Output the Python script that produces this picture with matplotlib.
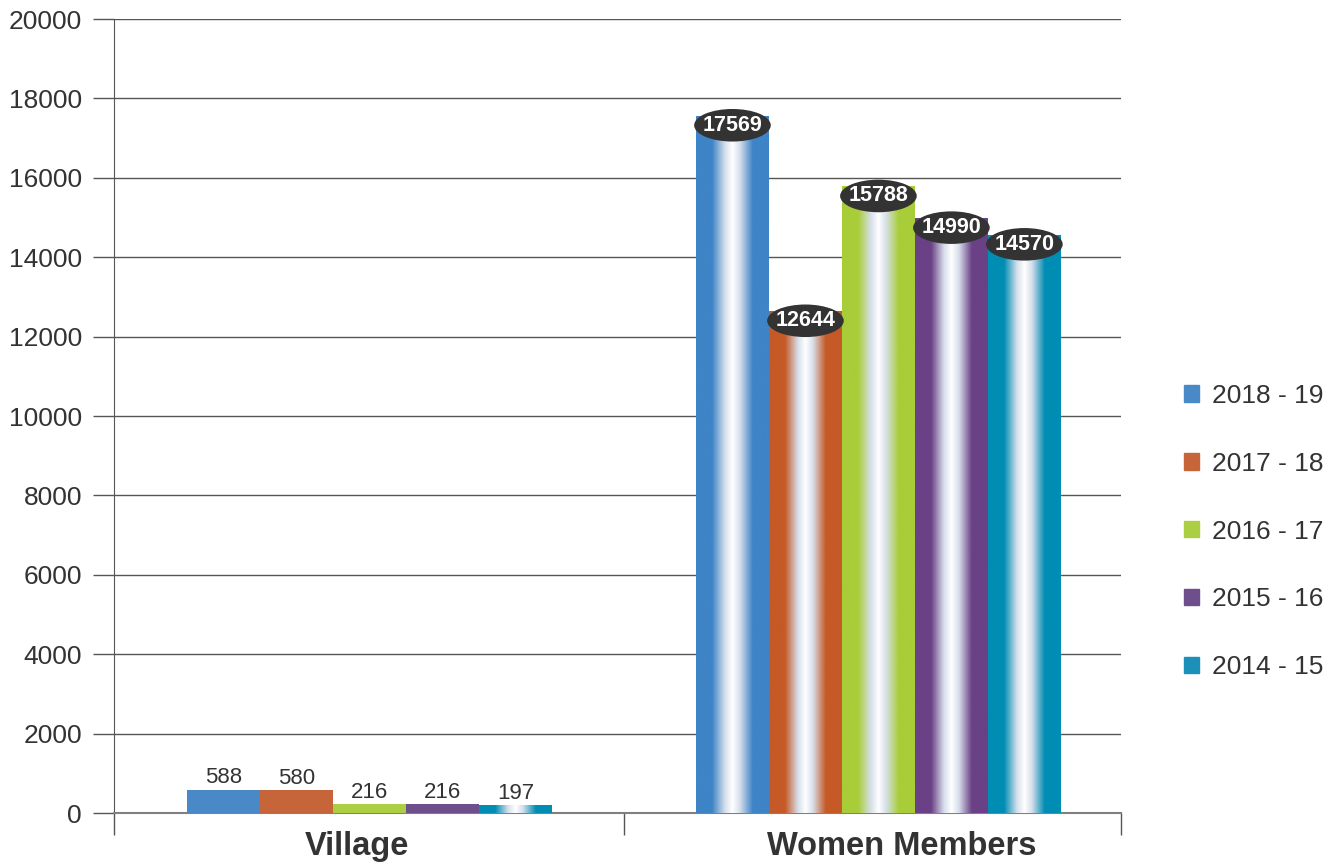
import matplotlib.pyplot as plt
import matplotlib.transforms as mtransforms
import numpy as np
from matplotlib.colors import LinearSegmentedColormap
from matplotlib.patches import Ellipse, Patch

plt.rcParams['font.family'] = ['Liberation Sans', 'DejaVu Sans']

categories = ['Village', 'Women Members']
seasons = ['2018 - 19', '2017 - 18', '2016 - 17', '2015 - 16', '2014 - 15']
village = [588, 580, 216, 216, 197]
women = [17569, 12644, 15788, 14990, 14570]

flat_colors = ['#4A89C8', '#C6643A', '#AACF45', '#6E4E8B', '#1C90B8']
tube_colors = ['#3E84C6', '#C55A27', '#A8CD38', '#6A4186', '#008DB4']
village_shaded = [False, False, False, False, True]

text_col = '#333333'
line_col = '#555555'

fig = plt.figure(figsize=(13.39, 8.65), dpi=100)
ax = fig.add_axes([0.0851, 0.0601, 0.7521, 0.9179])

width = 0.1432
centers = [0.502, 1.5]


def shade(patch, color):
    # cylinder look: white highlight running down the middle of the bar
    cmap = LinearSegmentedColormap.from_list(
        'tube', [(0, color), (0.22, color), (0.4, '#d8e0ec'), (0.5, 'white'),
                 (0.6, '#d8e0ec'), (0.78, color), (1, color)])
    x0, y0 = patch.get_x(), patch.get_y()
    w, h = patch.get_width(), patch.get_height()
    im = ax.imshow(np.linspace(0, 1, 256)[None, :], extent=(x0, x0 + w, y0, y0 + h),
                   aspect='auto', cmap=cmap, interpolation='bilinear',
                   zorder=patch.get_zorder() + 0.1)
    im.set_clip_path(patch)


label_trans = mtransforms.offset_copy(ax.transData, fig=fig, x=0, y=-7, units='points')

for i in range(len(seasons)):
    off = (i - 2) * width

    # Village group: flat bars with plain value labels
    b = ax.bar(centers[0] + off, village[i], width, color=flat_colors[i], zorder=3)[0]
    if village_shaded[i]:
        shade(b, tube_colors[i])
    ax.annotate(str(village[i]), (centers[0] + off, village[i]), xytext=(0, 1),
                textcoords='offset points', ha='center', va='bottom',
                fontsize=16, color=text_col, zorder=6)

    # Women Members group: shaded tubes with dark oval labels
    b = ax.bar(centers[1] + off, women[i], width, color=tube_colors[i], zorder=3)[0]
    shade(b, tube_colors[i])
    ax.add_patch(Ellipse((centers[1] + off, women[i]), width * 1.05, 820,
                         transform=label_trans, fc='#333333', ec='none', zorder=5))
    ax.text(centers[1] + off, women[i], str(women[i]), transform=label_trans,
            ha='center', va='center', fontsize=15.5, fontweight='bold',
            color='white', zorder=6)

ax.set_xlim(0, 1.976)
ax.set_ylim(0, 20000)

ax.set_yticks(np.arange(0, 20001, 2000))
ax.yaxis.grid(True, color=line_col, lw=1)
ax.set_axisbelow(True)
ax.tick_params(axis='y', length=15, width=1, color=line_col, pad=8,
               labelsize=19, labelcolor=text_col)

ax.set_xticks([0, 1, 1.976], minor=True)
ax.set_xticks([0.477, 1.546])
ax.set_xticklabels(categories, fontsize=23.5, fontweight='bold', color=text_col)
ax.tick_params(axis='x', which='major', length=0, pad=13)
ax.tick_params(axis='x', which='minor', length=16, width=1, color=line_col)

for s in ['top', 'right']:
    ax.spines[s].set_visible(False)
ax.spines['left'].set_color(line_col)
ax.spines['bottom'].set_color('#808080')
ax.spines['bottom'].set_linewidth(1.5)

handles = [Patch(color=c) for c in flat_colors]
fig.legend(handles, seasons, loc='center left', bbox_to_anchor=(0.884, 0.3855),
           frameon=False, fontsize=19, labelcolor=text_col, labelspacing=1.66,
           handlelength=0.58, handleheight=0.58, handletextpad=0.5,
           borderpad=0, borderaxespad=0)

fig.savefig('out.png', dpi=100)
